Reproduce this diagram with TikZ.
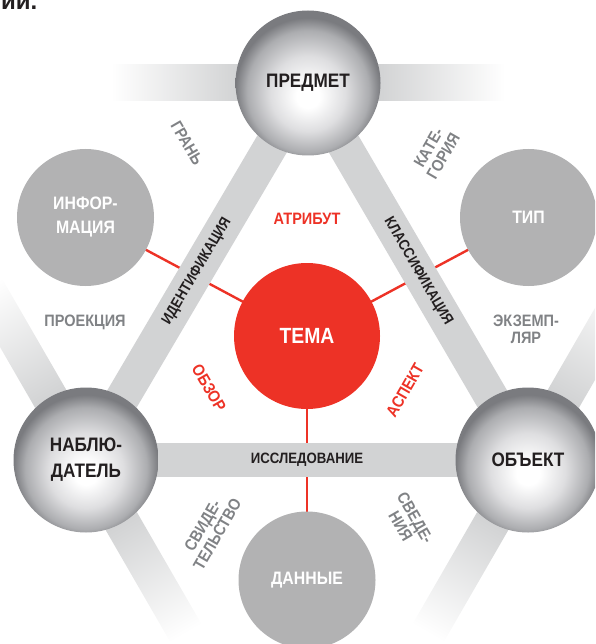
\documentclass[tikz,border=0pt]{standalone}
\usepackage{fontspec}
\setmainfont{Liberation Sans}
\newfontfamily\cf[FakeStretch=0.88]{Liberation Sans}
\usetikzlibrary{calc}
\definecolor{barc}{RGB}{210,211,212}
\definecolor{satc}{RGB}{178,178,179}
\definecolor{redc}{RGB}{237,50,38}
\definecolor{txtgray}{RGB}{128,130,133}
\definecolor{txtblack}{RGB}{35,31,32}
\definecolor{sphedge}{RGB}{122,123,127}
\definecolor{sphmid}{RGB}{172,173,176}
\definecolor{sphlight}{RGB}{222,222,224}
\pgfdeclareradialshading{sphere}{\pgfpoint{0bp}{-5bp}}{color(0bp)=(white); color(4bp)=(white); color(13bp)=(sphlight); color(21bp)=(sphmid); color(25bp)=(sphedge); color(50bp)=(sphedge)}
\pgfdeclarehorizontalshading{barfade}{100bp}{color(0bp)=(white); color(25bp)=(white); color(41bp)=(barc); color(59bp)=(barc); color(75bp)=(white); color(100bp)=(white)}
\tikzset{
  bigsphere/.style={circle, minimum size=145pt, inner sep=0pt, shade, shading=sphere, text=txtblack, align=center, font=\cf\bfseries\fontsize{19.5}{26}\selectfont},
  satellite/.style={circle, minimum size=137pt, inner sep=0pt, fill=satc, text=white, align=center, font=\cf\bfseries\fontsize{18}{24}\selectfont},
  theme/.style={circle, minimum size=146pt, inner sep=0pt, fill=redc, text=white, font=\cf\bfseries\fontsize{22}{26}\selectfont},
  innerbar/.style={barc, line width=34pt},
  redline/.style={redc, line width=2.4pt},
  barlabel/.style={text=txtblack, font=\cf\bfseries\fontsize{15}{18}\selectfont, inner sep=0pt},
  graylabel/.style={text=txtgray, align=center, font=\cf\bfseries\fontsize{16.5}{17}\selectfont, inner sep=0pt},
  redlabel/.style={text=redc, align=center, font=\cf\bfseries\fontsize{16.5}{17}\selectfont, inner sep=0pt},
}
\begin{document}
\begin{tikzpicture}[x=1pt,y=-1pt]
\useasboundingbox (0,0) rectangle (595,644);
\clip (0,0) rectangle (595,644);
\coordinate (cP) at (308,83);
\coordinate (cN) at (86,460);
\coordinate (cO) at (528,460);
\coordinate (cT) at (307,336);
\coordinate (cI) at (85.5,217.5);
\coordinate (cK) at (528.5,217.5);
\coordinate (cD) at (307,580);
% outer fading bars
\begin{scope}[transform canvas={shift={(cP)}}]
  \shade[shading=barfade] (-197,-18) rectangle (197,18);
\end{scope}
\begin{scope}[transform canvas={shift={(cN)}, rotate=-60}]
  \shade[shading=barfade] (-200,-18) rectangle (200,18);
\end{scope}
\begin{scope}[transform canvas={shift={(cO)}, rotate=60}]
  \shade[shading=barfade] (-200,-18) rectangle (200,18);
\end{scope}
% red lines (under the bars)
\draw[redline] (cT) -- (cI);
\draw[redline] (cT) -- (cK);
\draw[redline] (cT) -- (cD);
% inner bars
\draw[innerbar] (cP) -- node[barlabel, sloped] (lid) {ИДЕНТИФИКАЦИЯ} (cN);
\draw[innerbar] (cP) -- node[barlabel, sloped] (lkl) {КЛАССИФИКАЦИЯ} (cO);
\draw[innerbar] (cN) -- node[barlabel] (lis) {ИССЛЕДОВАНИЕ} (cO);
% circles
\node[theme] (tema) at (cT) {ТЕМА};
\node[satellite] (inf) at (cI) {ИНФОР-\\МАЦИЯ};
\node[satellite] (tip) at (cK) {ТИП};
\node[satellite] (dan) at (cD) {ДАННЫЕ};
\node[bigsphere] (pred) at (cP) {ПРЕДМЕТ};
\node[bigsphere] (nab) at (cN) {НАБЛЮ-\\ДАТЕЛЬ};
\node[bigsphere] (obj) at (cO) {ОБЪЕКТ};
% labels
\node[redlabel] (atr) at (307,219) {АТРИБУТ};
\node[redlabel, rotate=-60] (obz) at (209,388) {ОБЗОР};
\node[redlabel, rotate=60] (asp) at (405,390) {АСПЕКТ};
\node[graylabel, rotate=-60] (gr) at (187,143) {ГРАНЬ};
\node[graylabel, rotate=60] (kat) at (436,152) {КАТЕ-\\ГОРИЯ};
\node[graylabel] (pro) at (85,322) {ПРОЕКЦИЯ};
\node[graylabel] (ekz) at (526,329) {ЭКЗЕМП-\\ЛЯР};
\node[graylabel, rotate=60] (svi) at (210,530) {СВИДЕ-\\ТЕЛЬСТВО};
\node[graylabel, rotate=-60] (sve) at (408,522) {СВЕДЕ-\\НИЯ};
% heading fragment
\node[anchor=base west, inner sep=0pt, text=txtblack, font=\bfseries\fontsize{24}{24}\selectfont] (hd) at (1,10) {ии.};
\end{tikzpicture}
\end{document}
